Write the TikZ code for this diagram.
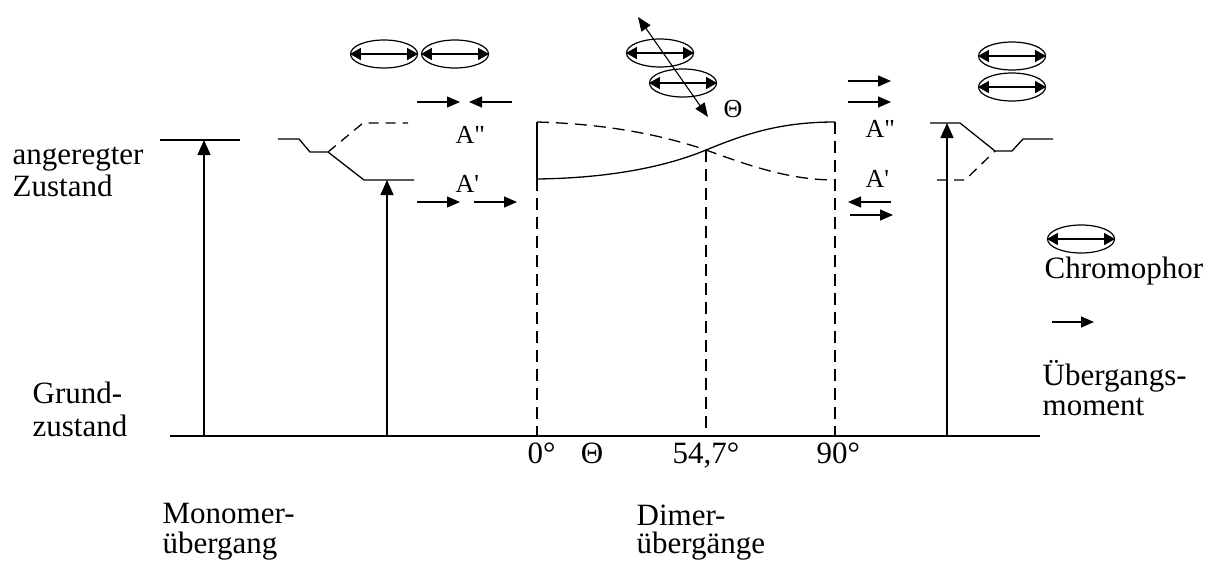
\documentclass[tikz,border=0pt]{standalone}
\usepackage{fontspec}
\setmainfont{Liberation Serif}
\usetikzlibrary{arrows.meta,shapes.geometric}

\begin{document}
\begin{tikzpicture}[x=1pt,y=-1pt,line width=1.3pt,
  lbl/.style={font=\fontsize{31}{32}\selectfont,inner sep=0pt,anchor=base west},
  sml/.style={font=\fontsize{26}{28}\selectfont,inner sep=0pt,anchor=base west},
  excite/.style={-{Triangle[length=15pt,width=13pt]}},
  tmom/.style={-{Triangle[length=13pt,width=11pt]}},
  dsh/.style={dash pattern=on 12pt off 7pt},
  sdsh/.style={dash pattern=on 10pt off 7pt},
  chrom/.style={ellipse,draw,line width=1.2pt,minimum width=67pt,minimum height=28pt,inner sep=0pt},
  dipole/.style={{Triangle[length=11pt,width=12pt]}-{Triangle[length=11pt,width=12pt]}}]
\useasboundingbox (0,0) rectangle (1206,563);

% ground state
\coordinate (g0) at (170,436);
\coordinate (g1) at (1040,436);
\draw (g0) -- (g1);

% monomer level and transition
\coordinate (m0) at (160,140);
\coordinate (m1) at (240,140);
\coordinate (mb) at (204,436);
\coordinate (mt) at (204,140);
\draw (m0) -- (m1);
\draw[excite] (mb) -- (mt);

% parallel dimer splitting
\coordinate (p0) at (278,139);
\coordinate (p1) at (299,139);
\coordinate (p2) at (310,152);
\coordinate (p3) at (328,152);
\coordinate (p4) at (364,180);
\coordinate (p5) at (414,180);
\coordinate (p6) at (363,123);
\coordinate (p7) at (408,123);
\draw (p0) -- (p1) -- (p2) -- (p3) -- (p4) -- (p5);
\draw[sdsh] (p3) -- (p6) -- (p7);
\coordinate (pb) at (387,436);
\coordinate (pt) at (387,180);
\draw[excite] (pb) -- (pt);

\node[chrom] (c1) at (384,54) {};
\node[chrom] (c2) at (455,54) {};
\draw[dipole] (c1.west) -- (c1.east);
\draw[dipole] (c2.west) -- (c2.east);

\coordinate (a1) at (417,102); \coordinate (a2) at (460,102);
\coordinate (a3) at (512,102); \coordinate (a4) at (469,102);
\draw[tmom] (a1) -- (a2);
\draw[tmom] (a3) -- (a4);
\node[sml] (lA2) at (455,143) {A\textquotedbl};
\node[sml] (lA1) at (455,192) {A\textquotesingle};
\coordinate (b1) at (417,202); \coordinate (b2) at (460,202);
\coordinate (b3) at (474,202); \coordinate (b4) at (517,202);
\draw[tmom] (b1) -- (b2);
\draw[tmom] (b3) -- (b4);

% angle dependence of the dimer levels
\coordinate (d0t) at (537,122);
\coordinate (d0b) at (537,179);
\coordinate (dx) at (706,150);
\coordinate (d9t) at (835,122);
\coordinate (d9b) at (835,180);
\draw (d0t) -- (d0b);
\draw (d0b) .. controls (615,178) and (670,165) .. (dx)
            .. controls (745,134) and (780,122) .. (d9t);
\draw[dsh] (d0t) .. controls (610,124) and (665,136) .. (dx)
            .. controls (750,166) and (790,180) .. (d9b);
\draw[dsh] (d0b) -- (537,436);
\draw[dsh] (dx) -- (706,436);
\draw[dsh] (d9t) -- (835,436);

\node[lbl] (t0) at (527,463) {0°};
\node[lbl,anchor=base] (tth) at (592,463) {Θ};
\node[lbl] (t54) at (672,463) {54,7°};
\node[lbl] (t90) at (816,463) {90°};

% tilted pair with angle arrow
\node[chrom] (c3) at (660,53) {};
\node[chrom] (c4) at (683,83) {};
\draw[dipole] (c3.west) -- (c3.east);
\draw[dipole] (c4.west) -- (c4.east);
\coordinate (r0) at (638,17);
\coordinate (r1) at (708,117);
\draw[line width=1.1pt,{Triangle[length=14pt,width=11pt]}-{Triangle[length=14pt,width=11pt]}] (r0) -- (r1);
\node[sml] (lth) at (723,117) {Θ};

% in-line dimer splitting
\node[chrom] (c5) at (1012,56) {};
\node[chrom] (c6) at (1012,87) {};
\draw[dipole] (c5.west) -- (c5.east);
\draw[dipole] (c6.west) -- (c6.east);

\coordinate (e1) at (848,81); \coordinate (e2) at (891,81);
\coordinate (e3) at (848,102); \coordinate (e4) at (891,102);
\draw[tmom] (e1) -- (e2);
\draw[tmom] (e3) -- (e4);
\node[sml] (rA2) at (865,137) {A\textquotedbl};
\node[sml] (rA1) at (865,187) {A\textquotesingle};
\coordinate (f1) at (891,202); \coordinate (f2) at (848,202);
\coordinate (f3) at (850,215); \coordinate (f4) at (893,215);
\draw[tmom] (f1) -- (f2);
\draw[tmom] (f3) -- (f4);

\coordinate (q0) at (930,123);
\coordinate (q1) at (960,123);
\coordinate (q2) at (995,151);
\coordinate (q3) at (1012,151);
\coordinate (q4) at (1023,139);
\coordinate (q5) at (1053,139);
\coordinate (q6) at (965,180);
\coordinate (q7) at (937,180);
\draw (q0) -- (q1) -- (q2) -- (q3) -- (q4) -- (q5);
\draw[sdsh] (q7) -- (q6) -- (q2);
\coordinate (qb) at (947,436);
\coordinate (qt) at (947,123);
\draw[excite] (qb) -- (qt);

% legend
\node[chrom] (c7) at (1081,239) {};
\draw[dipole] (c7.west) -- (c7.east);
\node[lbl] (lchr) at (1044,278) {Chromophor};
\coordinate (k1) at (1052,322); \coordinate (k2) at (1094,322);
\draw[tmom] (k1) -- (k2);
\node[lbl] (lue1) at (1042,385) {Übergangs-};
\node[lbl] (lue2) at (1042,415) {moment};

% state and transition labels
\node[lbl] (ang1) at (12,164) {angeregter};
\node[lbl] (ang2) at (12,196) {Zustand};
\node[lbl] (gr1) at (32,403) {Grund-};
\node[lbl] (gr2) at (32,436) {zustand};
\node[lbl] (mo1) at (162,523) {Monomer-};
\node[lbl] (mo2) at (162,553) {übergang};
\node[lbl] (di1) at (636,525) {Dimer-};
\node[lbl] (di2) at (636,553) {übergänge};
\end{tikzpicture}
\end{document}
